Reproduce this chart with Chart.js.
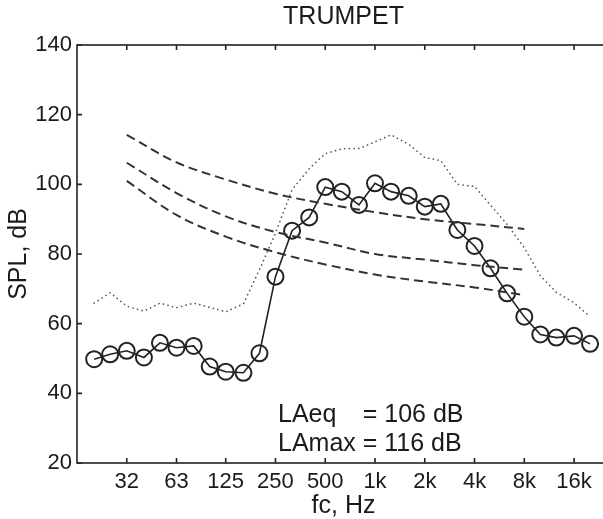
<!DOCTYPE html>
<html>
<head>
<meta charset="utf-8">
<script src="https://cdn.jsdelivr.net/npm/chart.js@4/dist/chart.umd.min.js"></script>
<style>
  html, body { margin: 0; padding: 0; background: #fff; overflow: hidden; }
  #wrap { position: relative; width: 620px; height: 519px; }
</style>
</head>
<body>
<div id="wrap"><canvas id="c"></canvas></div>
<script>
// 1/3-octave band centre frequencies (Hz)
const bands = [20, 25, 31.5, 40, 50, 63, 80, 100, 125, 160, 200, 250, 315, 400, 500, 630, 800,
  1000, 1250, 1600, 2000, 2500, 3150, 4000, 5000, 6300, 8000, 10000, 12500, 16000, 20000];
// Trumpet SPL per band (circles), dB
const splLeq = [49.8, 51.2, 52.2, 50.3, 54.5, 53.1, 53.6, 47.7, 46.2, 45.9, 51.5, 73.5, 86.7, 90.5,
  99.2, 97.9, 94.1, 100.3, 97.9, 96.7, 93.6, 94.4, 86.9, 82.3, 75.9, 68.7, 62.0, 56.9, 56.0, 56.5, 54.2];
// Maximum level per band (dotted), dB
const splMax = [65.9, 68.9, 65.0, 63.6, 65.9, 64.6, 65.9, 64.7, 63.4, 65.7, 75.5, 86.0, 98.5, 104.5,
  108.8, 110.2, 110.3, 112.2, 114.2, 111.5, 107.7, 106.8, 100.0, 99.4, 94.0, 88.5, 81.8, 73.8, 69.0, 66.0, 62.0];
// Octave bands for the dashed reference curves
const octaveBands = [31.5, 63, 125, 250, 500, 1000, 2000, 4000, 8000];
const curveHigh = [114.2, 106.3, 101.4, 97.3, 94.4, 92.0, 90.0, 88.6, 87.2];
const curveMid  = [106.2, 97.5, 90.8, 86.3, 83.3, 80.0, 78.4, 76.8, 75.5];
const curveLow  = [101.0, 91.2, 85.0, 80.5, 77.0, 74.1, 72.1, 70.4, 68.2];
// Axis ticks
const xTickValues = [31.5, 63, 125, 250, 500, 1000, 2000, 4000, 8000, 16000];
const xTickLabels = ['32', '63', '125', '250', '500', '1k', '2k', '4k', '8k', '16k'];
const yTickValues = [20, 40, 60, 80, 100, 120, 140];
const annotLabels = ['LAeq', 'LAmax'];
const annotValues = ['= 106 dB', '= 116 dB'];

const FONT = "'Liberation Sans', Arial, Helvetica, sans-serif";
const INK = '#222';

const pts = (xs, ys) => xs.map((x, i) => ({ x: x, y: ys[i] }));

const framePlugin = {
  id: 'frame',
  afterDraw(chart) {
    const { ctx, chartArea: a, scales } = chart;
    ctx.save();
    ctx.strokeStyle = INK;
    ctx.lineWidth = 1.6;
    ctx.strokeRect(a.left, a.top, a.right - a.left, a.bottom - a.top);
    const L = 5;
    ctx.beginPath();
    xTickValues.forEach(v => {
      const px = scales.x.getPixelForValue(v);
      ctx.moveTo(px, a.bottom); ctx.lineTo(px, a.bottom - L);
      ctx.moveTo(px, a.top); ctx.lineTo(px, a.top + L);
    });
    yTickValues.forEach(v => {
      const py = scales.y.getPixelForValue(v);
      ctx.moveTo(a.left, py); ctx.lineTo(a.left + L, py);
      ctx.moveTo(a.right, py); ctx.lineTo(a.right - L, py);
    });
    ctx.stroke();
    // annotation text
    ctx.fillStyle = '#1a1a1a';
    ctx.font = '25px ' + FONT;
    ctx.textBaseline = 'alphabetic';
    ctx.textAlign = 'left';
    const x0 = a.left + 201;
    const x1 = x0 + ctx.measureText('LAmax ').width;
    const y0 = a.bottom - 41, dy = 29;
    annotLabels.forEach((t, i) => ctx.fillText(t, x0, y0 + i * dy));
    annotValues.forEach((t, i) => ctx.fillText(t, x1, y0 + i * dy));
    ctx.restore();
  }
};

new Chart(document.getElementById('c'), {
  type: 'line',
  data: {
    datasets: [
      { label: 'max', data: pts(bands, splMax), borderColor: '#5a5a5a', borderWidth: 1.7,
        borderDash: [0.1, 4.6], borderCapStyle: 'round', pointRadius: 0, tension: 0, fill: false },
      { label: 'c1', data: pts(octaveBands, curveHigh), borderColor: '#333', borderWidth: 2,
        borderDash: [9, 5], pointRadius: 0, tension: 0.35, fill: false },
      { label: 'c2', data: pts(octaveBands, curveMid), borderColor: '#333', borderWidth: 2,
        borderDash: [9, 5], pointRadius: 0, tension: 0.35, fill: false },
      { label: 'c3', data: pts(octaveBands, curveLow), borderColor: '#333', borderWidth: 2,
        borderDash: [9, 5], pointRadius: 0, tension: 0.35, fill: false },
      { label: 'Leq', data: pts(bands, splLeq), borderColor: INK, borderWidth: 1.6,
        pointRadius: 8, pointBorderWidth: 2, pointBorderColor: INK,
        pointBackgroundColor: 'rgba(0,0,0,0)', tension: 0, fill: false }
    ]
  },
  options: {
    responsive: true,
    maintainAspectRatio: false,
    animation: false,
    layout: { padding: { left: 0, right: 9, top: 0, bottom: 0 } },
    plugins: {
      legend: { display: false },
      tooltip: { enabled: false },
      title: {
        display: true, text: 'TRUMPET', color: '#1a1a1a', fullSize: false,
        font: { family: FONT, size: 25, weight: 'normal', lineHeight: 1.2 },
        padding: { top: 2, bottom: 13 }
      }
    },
    scales: {
      x: {
        type: 'logarithmic', min: 15.75, max: 26400,
        afterBuildTicks: s => { s.ticks = xTickValues.map(v => ({ value: v })); },
        afterFit: s => { s.height = 56; },
        grid: { display: false, drawTicks: false },
        border: { display: false },
        ticks: {
          color: '#1a1a1a', padding: 6, autoSkip: false, maxRotation: 0,
          font: { family: FONT, size: 22 },
          callback: (v, i) => xTickLabels[i]
        },
        title: { display: true, text: 'fc, Hz', color: '#1a1a1a',
          font: { family: FONT, size: 25, lineHeight: 1.0 }, padding: { top: 0, bottom: 0 } }
      },
      y: {
        type: 'linear', min: 20, max: 140,
        afterBuildTicks: s => { s.ticks = yTickValues.map(v => ({ value: v })); },
        afterFit: s => { s.width = 77; },
        grid: { display: false, drawTicks: false },
        border: { display: false },
        ticks: { color: '#1a1a1a', padding: 5, font: { family: FONT, size: 22 } },
        title: { display: true, text: 'SPL, dB', color: '#1a1a1a',
          font: { family: FONT, size: 25, lineHeight: 1.0 }, padding: { top: 7, bottom: 0 } }
      }
    }
  },
  plugins: [framePlugin]
});
</script>
</body>
</html>
